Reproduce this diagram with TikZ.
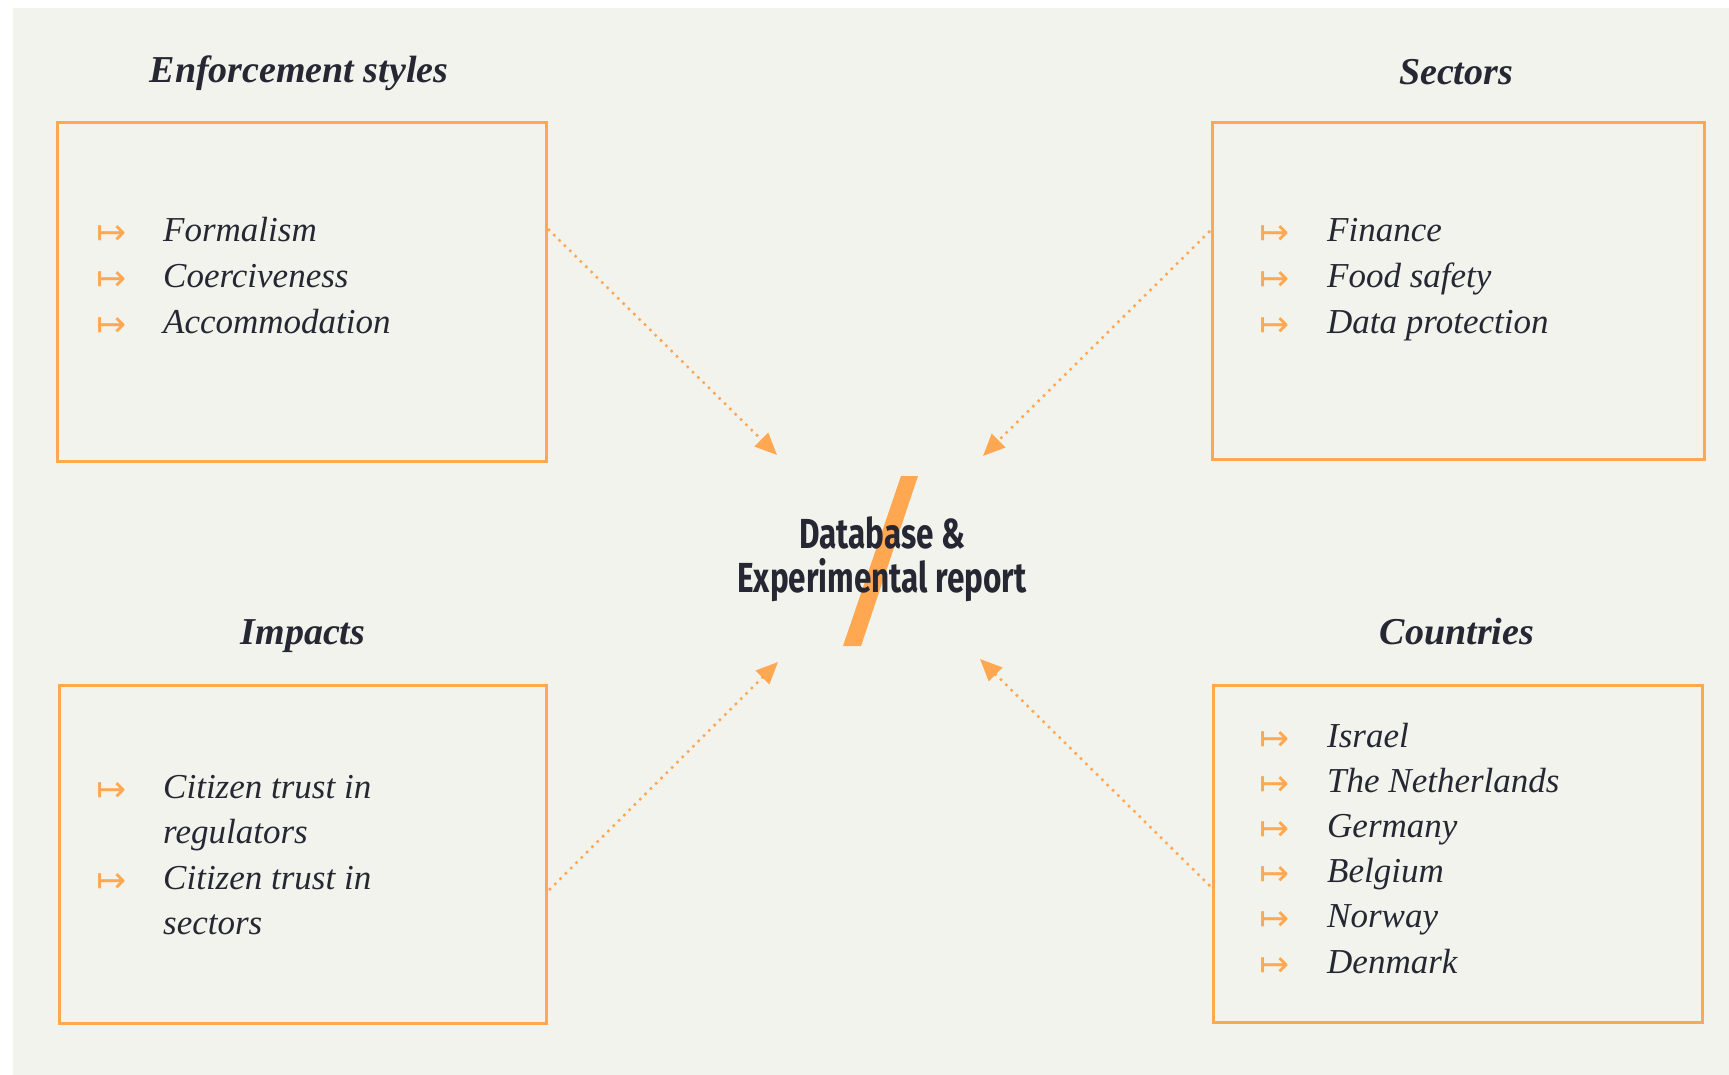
\documentclass[tikz,border=0pt]{standalone}
\usepackage{fontspec}
\usepackage{graphicx}
\setmainfont{Liberation Serif}
\newfontfamily\dbfont{Fira Sans}
\newfontfamily\arrfont{DejaVu Sans}
\usetikzlibrary{arrows.meta}
\definecolor{bgc}{HTML}{F1F3EC}
\definecolor{org}{HTML}{FFA851}
\definecolor{ink}{HTML}{262733}
\tikzset{
  boxst/.style={draw=org, line width=3pt, inner sep=0pt, anchor=north west},
  ttl/.style={font=\fontsize{38}{44}\selectfont\bfseries\itshape, text=ink, anchor=base, inner sep=0pt},
  itm/.style={font=\fontsize{35}{44}\selectfont\itshape, text=ink, anchor=base west, inner sep=0pt},
  bul/.style={font=\arrfont\fontsize{36}{38}\selectfont, text=org, anchor=base west, inner sep=0pt},
  dbst/.style={font=\dbfont\bfseries\fontsize{42}{44}\selectfont, text=ink, anchor=base, inner sep=0pt},
  conn/.style={draw=org, line width=2.5pt, dash pattern=on 2.5pt off 5pt, -{Triangle[length=22pt,width=19pt]}},
}
\begin{document}
\begin{tikzpicture}[x=1pt,y=-1pt]
\useasboundingbox (0,0) rectangle (1729,1075);
\fill[white] (0,0) rectangle (1729,1075);
\fill[bgc] (13,8) rectangle (1729,1075);

% boxes
\node[boxst, minimum width=489pt, minimum height=339pt] (box1) at (56,121) {};
\node[boxst, minimum width=492pt, minimum height=337pt] (box2) at (1211,121) {};
\node[boxst, minimum width=487pt, minimum height=338pt] (box3) at (58,684) {};
\node[boxst, minimum width=489pt, minimum height=337pt] (box4) at (1212,684) {};

% titles
\node[ttl] (ttl1) at (299,83) {Enforcement styles};
\node[ttl] (ttl2) at (1456,85) {Sectors};
\node[ttl] (ttl3) at (303,644) {Impacts};
\node[ttl] (ttl4) at (1457,644) {Countries};

% items box 1
\foreach \t [count=\i] in {Formalism,Coerciveness,Accommodation} {
  \node[bul] (bu1\i) at (96,{245+45.5*(\i-1)}) {↦};
  \node[itm] (it1\i) at (163,{242+45.5*(\i-1)}) {\t};
}
% items box 2
\foreach \t [count=\i] in {Finance,Food safety,Data protection} {
  \node[bul] (bu2\i) at (1259,{245+45.5*(\i-1)}) {↦};
  \node[itm] (it2\i) at (1327,{242+45.5*(\i-1)}) {\t};
}
% items box 3
\node[bul] (bu31) at (96,801) {↦};
\node[itm] (it31) at (163,798) {Citizen trust in};
\node[itm] (it32) at (163,843.5) {regulators};
\node[bul] (bu32) at (96,892) {↦};
\node[itm] (it33) at (163,889) {Citizen trust in};
\node[itm] (it34) at (163,934.5) {sectors};
% items box 4
\foreach \t [count=\i] in {Israel,The Netherlands,Germany,Belgium,Norway,Denmark} {
  \node[bul] (bu4\i) at (1259,{750+45.2*(\i-1)}) {↦};
  \node[itm] (it4\i) at (1327,{747+45.2*(\i-1)}) {\t};
}

% centre
\fill[org] (901,476) -- (918,476) -- (861,646) -- (843,646) -- cycle;
\node[dbst] (dbA) at (882,548) {\scalebox{0.75}[1]{Database \&}};
\node[dbst] (dbB) at (882,592) {\scalebox{0.75}[1]{Experimental report}};

% connectors
\coordinate (s1) at (548,229); \coordinate (e1) at (777,455);
\coordinate (s2) at (1210,231); \coordinate (e2) at (983,456);
\coordinate (s3) at (549,890); \coordinate (e3) at (778,662);
\coordinate (s4) at (1210,886); \coordinate (e4) at (980,659);
\draw[conn] (s1) -- (e1);
\draw[conn] (s2) -- (e2);
\draw[conn] (s3) -- (e3);
\draw[conn] (s4) -- (e4);
\end{tikzpicture}
\end{document}
